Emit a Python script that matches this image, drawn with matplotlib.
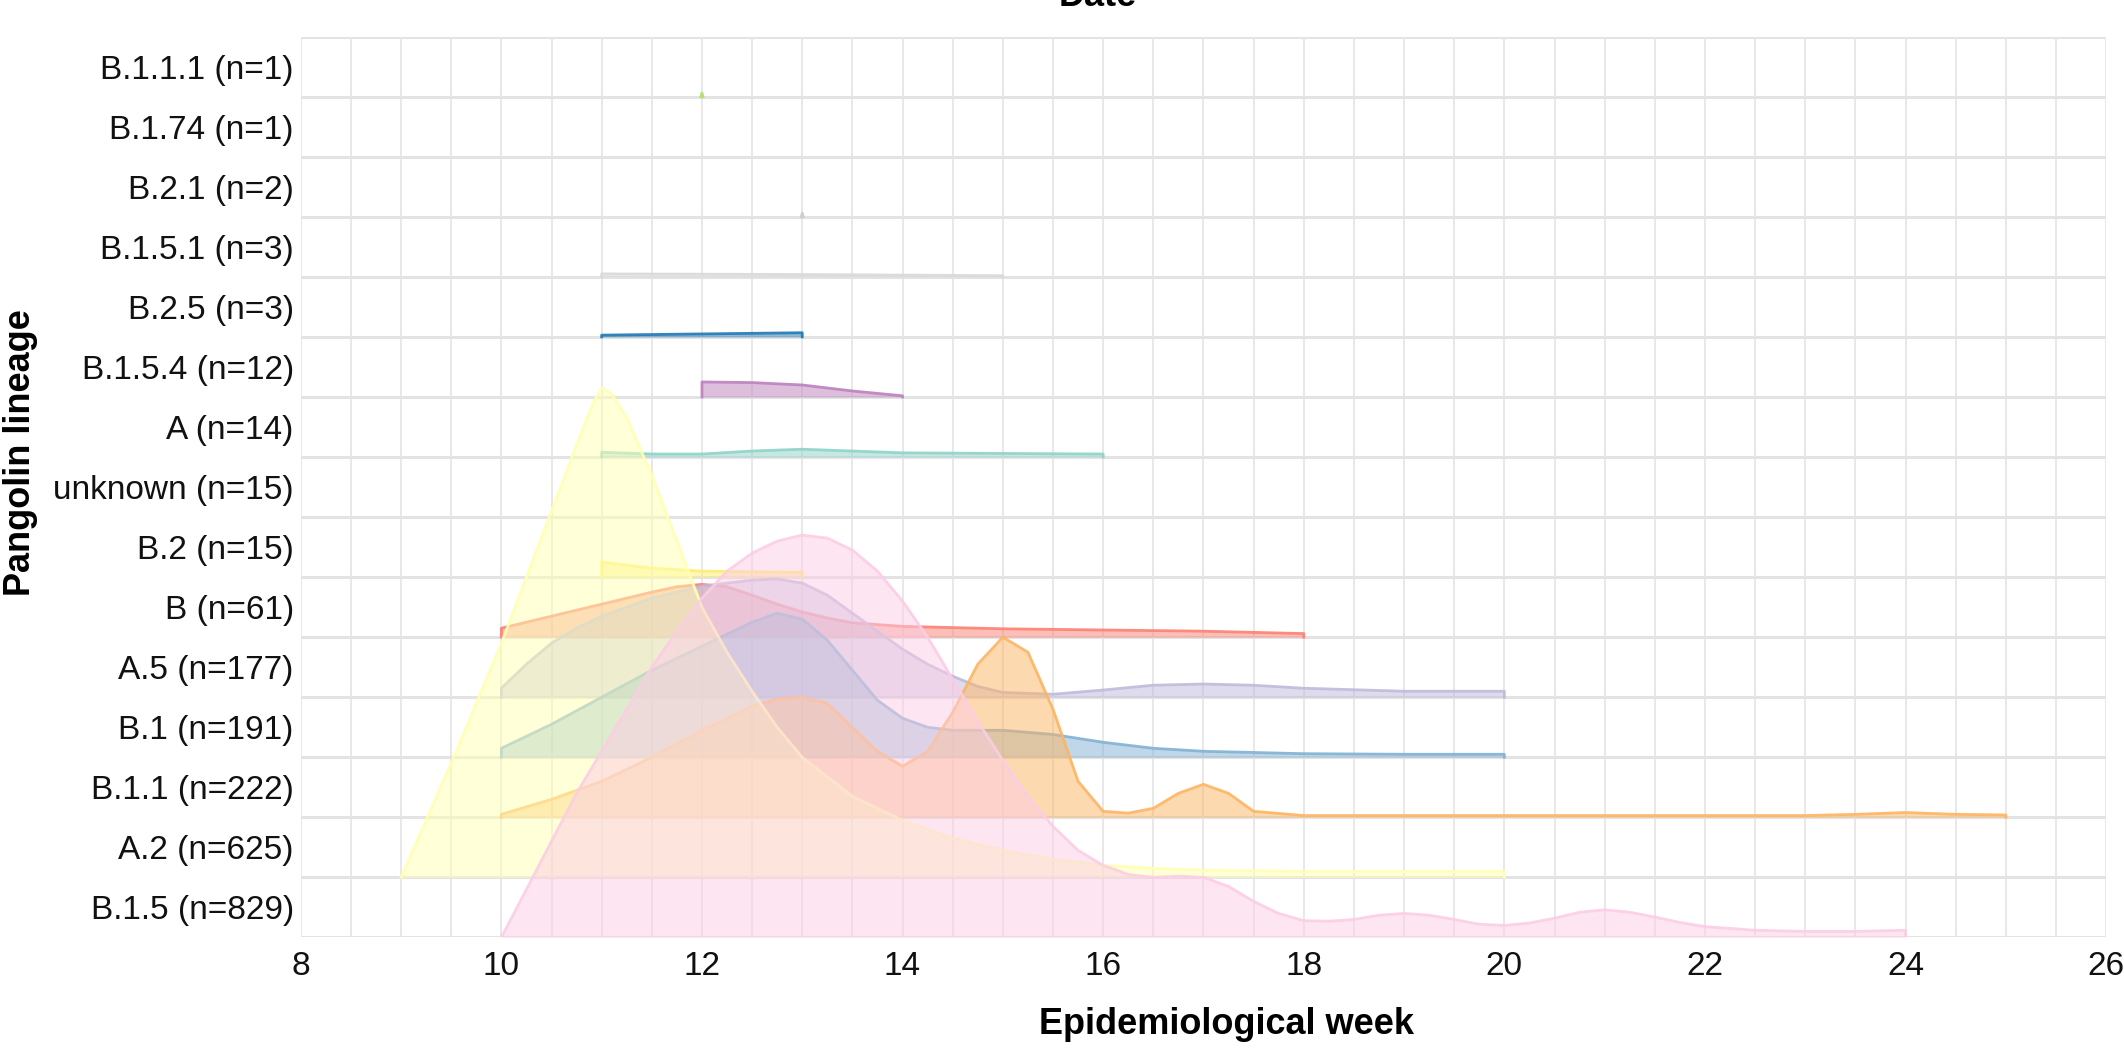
import numpy as np
import matplotlib.pyplot as plt

plt.rcParams['font.family'] = ['Liberation Sans', 'DejaVu Sans']

# lineages from bottom row to top row
lineages = ['B.1.5', 'A.2', 'B.1.1', 'B.1', 'A.5', 'B', 'B.2', 'unknown',
            'A', 'B.1.5.4', 'B.2.5', 'B.1.5.1', 'B.2.1', 'B.1.74', 'B.1.1.1']
counts = [829, 625, 222, 191, 177, 61, 15, 15, 14, 12, 3, 3, 2, 1, 1]
colors = ['#fccde5', '#ffffb3', '#fdb462', '#80b1d3', '#bebada', '#fb8072',
          '#ffed6f', '#b3b3b3', '#8dd3c7', '#bc80bd', '#1f78b4', '#d9d9d9',
          '#cccccc', '#ccebc5', '#b3de69']

# density outlines (week, height in row units)
week_B15 = [10, 10.25, 10.5, 10.75, 11, 11.25, 11.5, 11.75, 12, 12.25, 12.5, 12.75,
            13, 13.25, 13.5, 13.75, 14, 14.25, 14.5, 14.75, 15, 15.25, 15.5, 15.75,
            16, 16.25, 16.5, 16.75, 17, 17.25, 17.5, 17.75, 18, 18.25, 18.5, 18.75,
            19, 19.25, 19.5, 19.75, 20, 20.25, 20.5, 20.75, 21, 21.25, 21.5, 21.75,
            22, 22.5, 23, 23.5, 24]
dens_B15 = [0, 0.8, 1.6, 2.4, 3.1, 3.8, 4.5, 5.1, 5.65, 6.1, 6.4, 6.6,
            6.7, 6.65, 6.45, 6.1, 5.6, 5.0, 4.3, 3.6, 2.95, 2.35, 1.85, 1.45,
            1.2, 1.05, 1.0, 1.02, 1.0, 0.85, 0.6, 0.4, 0.28, 0.27, 0.3, 0.37,
            0.4, 0.37, 0.3, 0.22, 0.2, 0.24, 0.32, 0.42, 0.46, 0.42, 0.34, 0.25,
            0.18, 0.12, 0.1, 0.1, 0.12]

week_A2 = [9, 9.25, 9.5, 9.75, 10, 10.25, 10.5, 10.75, 10.9, 11, 11.1, 11.25, 11.5,
           11.75, 12, 12.25, 12.5, 12.75, 13, 13.5, 14, 14.5, 15, 15.5, 16, 16.5,
           17, 18, 19, 20]
dens_A2 = [0, 0.95, 1.9, 2.9, 3.9, 5.0, 6.1, 7.2, 7.85, 8.15, 8.05, 7.65, 6.7,
           5.6, 4.5, 3.75, 3.1, 2.5, 2.0, 1.35, 0.95, 0.65, 0.45, 0.3, 0.2, 0.15,
           0.12, 0.1, 0.1, 0.1]

week_B11 = [10, 10.5, 11, 11.5, 12, 12.5, 12.75, 13, 13.25, 13.5, 13.75, 14, 14.25,
            14.5, 14.75, 15, 15.25, 15.5, 15.75, 16, 16.25, 16.5, 16.75, 17, 17.25,
            17.5, 18, 23, 23.5, 24, 24.5, 25]
dens_B11 = [0.05, 0.3, 0.6, 1.0, 1.45, 1.85, 1.97, 2.0, 1.9, 1.5, 1.1, 0.85, 1.1,
            1.75, 2.55, 3.0, 2.75, 1.8, 0.6, 0.1, 0.07, 0.15, 0.4, 0.55, 0.4,
            0.1, 0.03, 0.03, 0.05, 0.08, 0.05, 0.04]

week_B1 = [10, 10.5, 11, 11.5, 12, 12.25, 12.5, 12.75, 13, 13.25, 13.5, 13.75, 14,
           14.25, 14.5, 15, 15.5, 16, 16.5, 17, 18, 19, 20]
dens_B1 = [0.15, 0.55, 1.0, 1.45, 1.85, 2.05, 2.25, 2.4, 2.3, 1.95, 1.45, 0.95,
           0.65, 0.5, 0.45, 0.45, 0.38, 0.25, 0.15, 0.1, 0.06, 0.05, 0.05]

week_A5 = [10, 10.25, 10.5, 10.75, 11, 11.5, 12, 12.5, 12.75, 13, 13.25, 13.5, 13.75,
           14, 14.25, 14.5, 14.75, 15, 15.5, 16, 16.5, 17, 17.5, 18, 19, 20]
dens_A5 = [0.15, 0.55, 0.9, 1.15, 1.35, 1.65, 1.85, 1.95, 1.97, 1.9, 1.7, 1.4, 1.1,
           0.8, 0.55, 0.35, 0.18, 0.08, 0.05, 0.12, 0.2, 0.22, 0.2, 0.15, 0.1, 0.1]

week_B = [10, 10.5, 11, 11.5, 11.75, 12, 12.25, 12.5, 12.75, 13, 13.25, 13.5, 14,
          15, 16, 17, 18]
dens_B = [0.15, 0.35, 0.55, 0.75, 0.84, 0.88, 0.84, 0.7, 0.55, 0.42, 0.32, 0.24,
          0.18, 0.14, 0.12, 0.1, 0.06]

week_B2 = [11, 11.5, 12, 13]
dens_B2 = [0.25, 0.15, 0.1, 0.08]

week_unknown = []
dens_unknown = []

week_A = [11, 11.5, 12, 12.5, 13, 13.5, 14, 15, 16]
dens_A = [0.08, 0.05, 0.05, 0.1, 0.13, 0.1, 0.07, 0.06, 0.05]

week_B154 = [12, 12.5, 13, 13.5, 14]
dens_B154 = [0.25, 0.24, 0.2, 0.1, 0.02]

week_B25 = [11, 12, 13]
dens_B25 = [0.03, 0.05, 0.07]

week_B151 = [11, 13, 15]
dens_B151 = [0.05, 0.04, 0.02]

week_B21 = [12.99, 13, 13.01]
dens_B21 = [0, 0.06, 0]

week_B174 = []
dens_B174 = []

week_B111 = [11.99, 12, 12.01]
dens_B111 = [0, 0.06, 0]

weeks = [week_B15, week_A2, week_B11, week_B1, week_A5, week_B, week_B2,
         week_unknown, week_A, week_B154, week_B25, week_B151, week_B21,
         week_B174, week_B111]
dens = [dens_B15, dens_A2, dens_B11, dens_B1, dens_A5, dens_B, dens_B2,
        dens_unknown, dens_A, dens_B154, dens_B25, dens_B151, dens_B21,
        dens_B174, dens_B111]

fig = plt.figure(figsize=(21.24, 10.48), dpi=100)
ax = fig.add_axes([0.1416, 0.1055, 0.85, 0.8595])

# draw top rows first so lower rows overlay them
for i in range(len(lineages) - 1, -1, -1):
    wx = np.array(weeks[i], dtype=float)
    if len(wx) == 0:
        continue
    hy = np.array(dens[i], dtype=float) + i
    ax.fill_between(wx, i, hy, color=colors[i], alpha=0.5, lw=0, zorder=3)
    ax.plot(np.r_[wx[0], wx, wx[-1]], np.r_[i, hy, i], color=colors[i],
            lw=2.0, alpha=0.9, zorder=3, solid_joinstyle='round')

ax.set_xlim(8, 26)
ax.set_ylim(0, 15)
ax.set_xticks(np.arange(8, 27, 2))
ax.set_xticks(np.arange(8, 26.01, 0.5), minor=True)
ax.set_yticks(np.arange(15))
ax.set_yticks(np.arange(15) + 0.5, minor=True)
ax.set_yticklabels([])
ax.set_yticklabels([f'{l} (n={c})' for l, c in zip(lineages, counts)], minor=True)
ax.grid(True, which='both', axis='x', color='#e6e6e6', lw=1.3, zorder=0)
ax.grid(True, which='major', axis='y', color='#e3e3e3', lw=2.2, zorder=0)
ax.tick_params(axis='both', which='both', length=0, labelsize=24, colors='#111111')
ax.tick_params(axis='x', pad=10)
ax.tick_params(axis='y', which='minor', pad=5)
for s in ax.spines.values():
    s.set_visible(False)
ax.axhline(15, color='#e3e3e3', lw=2.2, zorder=0)

ax.set_xlabel('Epidemiological week', fontsize=26, fontweight='bold')
ax.set_ylabel('Pangolin lineage', fontsize=26, fontweight='bold')
ax.xaxis.set_label_coords(0.513, -0.077)
ax.yaxis.set_label_coords(-0.1455, 0.538)
fig.text(0.517, 1 - 6 / 1048, 'Date', ha='center', va='baseline',
         fontsize=26, fontweight='bold')

fig.savefig('out.png', dpi=100)
